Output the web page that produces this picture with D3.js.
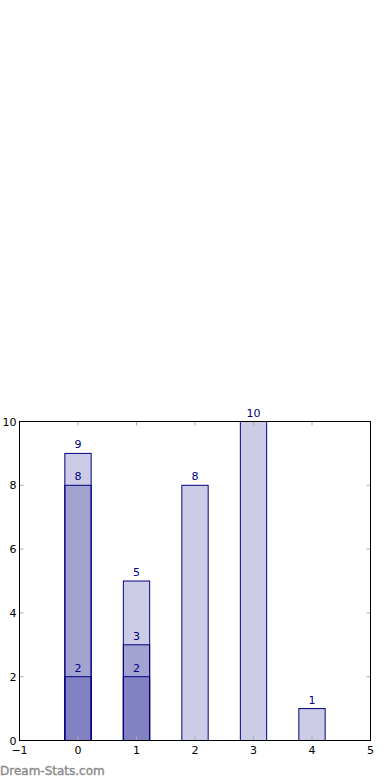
<!DOCTYPE html>
<html>
<head>
<meta charset="utf-8" />
<style>
  body { margin: 0; background: white; }
  text { font-family: "DejaVu Sans", sans-serif; }
</style>
</head>
<body>
<script src="https://d3js.org/d3.v7.min.js"></script>
<script>
// one row per overlapping layer, drawn with alpha so they stack
var categories = [0, 1, 2, 3, 4];
var layerTotal = [9, 5, 8, 10, 1];
var layerMid = [8, 3, null, null, null];
var layerLow = [2, 2, null, null, null];
var xTicks = [-1, 0, 1, 2, 3, 4, 5];
var yTicks = [0, 2, 4, 6, 8, 10];

var width = 390, height = 780;
var plotLeft = 19.5, plotRight = 370.5, plotTop = 421.5, plotBottom = 740.5;
var barW = 0.45;

var svg = d3.select("body").append("svg")
    .attr("width", width)
    .attr("height", height);

var x = d3.scaleLinear().domain([-1, 5]).range([plotLeft, plotRight]);
var y = d3.scaleLinear().domain([0, 10]).range([plotBottom, plotTop]);

var layers = [layerTotal, layerMid, layerLow];
layers.forEach(function(vals) {
  var d = categories.map(function(c, i) { return {c: c, v: vals[i]}; })
      .filter(function(e) { return e.v != null; });
  var g = svg.append("g");
  g.selectAll("rect").data(d).enter().append("rect")
    .attr("x", function(e) { return x(e.c - barW / 2); })
    .attr("y", function(e) { return y(e.v); })
    .attr("width", function(e) { return x(e.c + barW / 2) - x(e.c - barW / 2); })
    .attr("height", function(e) { return y(0) - y(e.v); })
    .style("fill", "#000080")
    .style("fill-opacity", 0.2)
    .style("stroke", "#000080")
    .style("stroke-width", 1);
  g.selectAll("text").data(d).enter().append("text")
    .attr("x", function(e) { return x(e.c); })
    .attr("y", function(e) { return y(e.v) - 5; })
    .attr("text-anchor", "middle")
    .style("font-size", "11px")
    .style("fill", "#000080")
    .text(function(e) { return e.v; });
});

// ticks inside on every side
var tk = svg.append("g").style("stroke", "#aaa").style("stroke-width", 1);
xTicks.forEach(function(t) {
  tk.append("line").attr("x1", x(t)).attr("x2", x(t)).attr("y1", plotBottom).attr("y2", plotBottom - 4);
  tk.append("line").attr("x1", x(t)).attr("x2", x(t)).attr("y1", plotTop).attr("y2", plotTop + 4);
});
yTicks.forEach(function(t) {
  tk.append("line").attr("x1", plotLeft).attr("x2", plotLeft + 4).attr("y1", y(t)).attr("y2", y(t));
  tk.append("line").attr("x1", plotRight).attr("x2", plotRight - 4).attr("y1", y(t)).attr("y2", y(t));
});

svg.append("rect")
  .attr("x", plotLeft).attr("y", plotTop)
  .attr("width", plotRight - plotLeft).attr("height", plotBottom - plotTop)
  .style("fill", "none").style("stroke", "black").style("stroke-width", 1);

svg.append("g").selectAll("text").data(xTicks).enter().append("text")
  .attr("x", function(t) { return x(t); })
  .attr("y", plotBottom + 13)
  .attr("text-anchor", "middle")
  .style("font-size", "11px")
  .text(function(t) { return t < 0 ? "\u2212" + Math.abs(t) : t; });

svg.append("g").selectAll("text").data(yTicks).enter().append("text")
  .attr("x", plotLeft - 3)
  .attr("y", function(t) { return y(t) + 4; })
  .attr("text-anchor", "end")
  .style("font-size", "11px")
  .text(function(t) { return t; });

svg.append("text")
  .attr("x", 0).attr("y", 775)
  .style("font-size", "12px")
  .style("fill", "#8c8c8c")
  .style("stroke", "#8c8c8c")
  .style("stroke-width", 0.4)
  .text("Dream-Stats.com");
</script>
</body>
</html>
